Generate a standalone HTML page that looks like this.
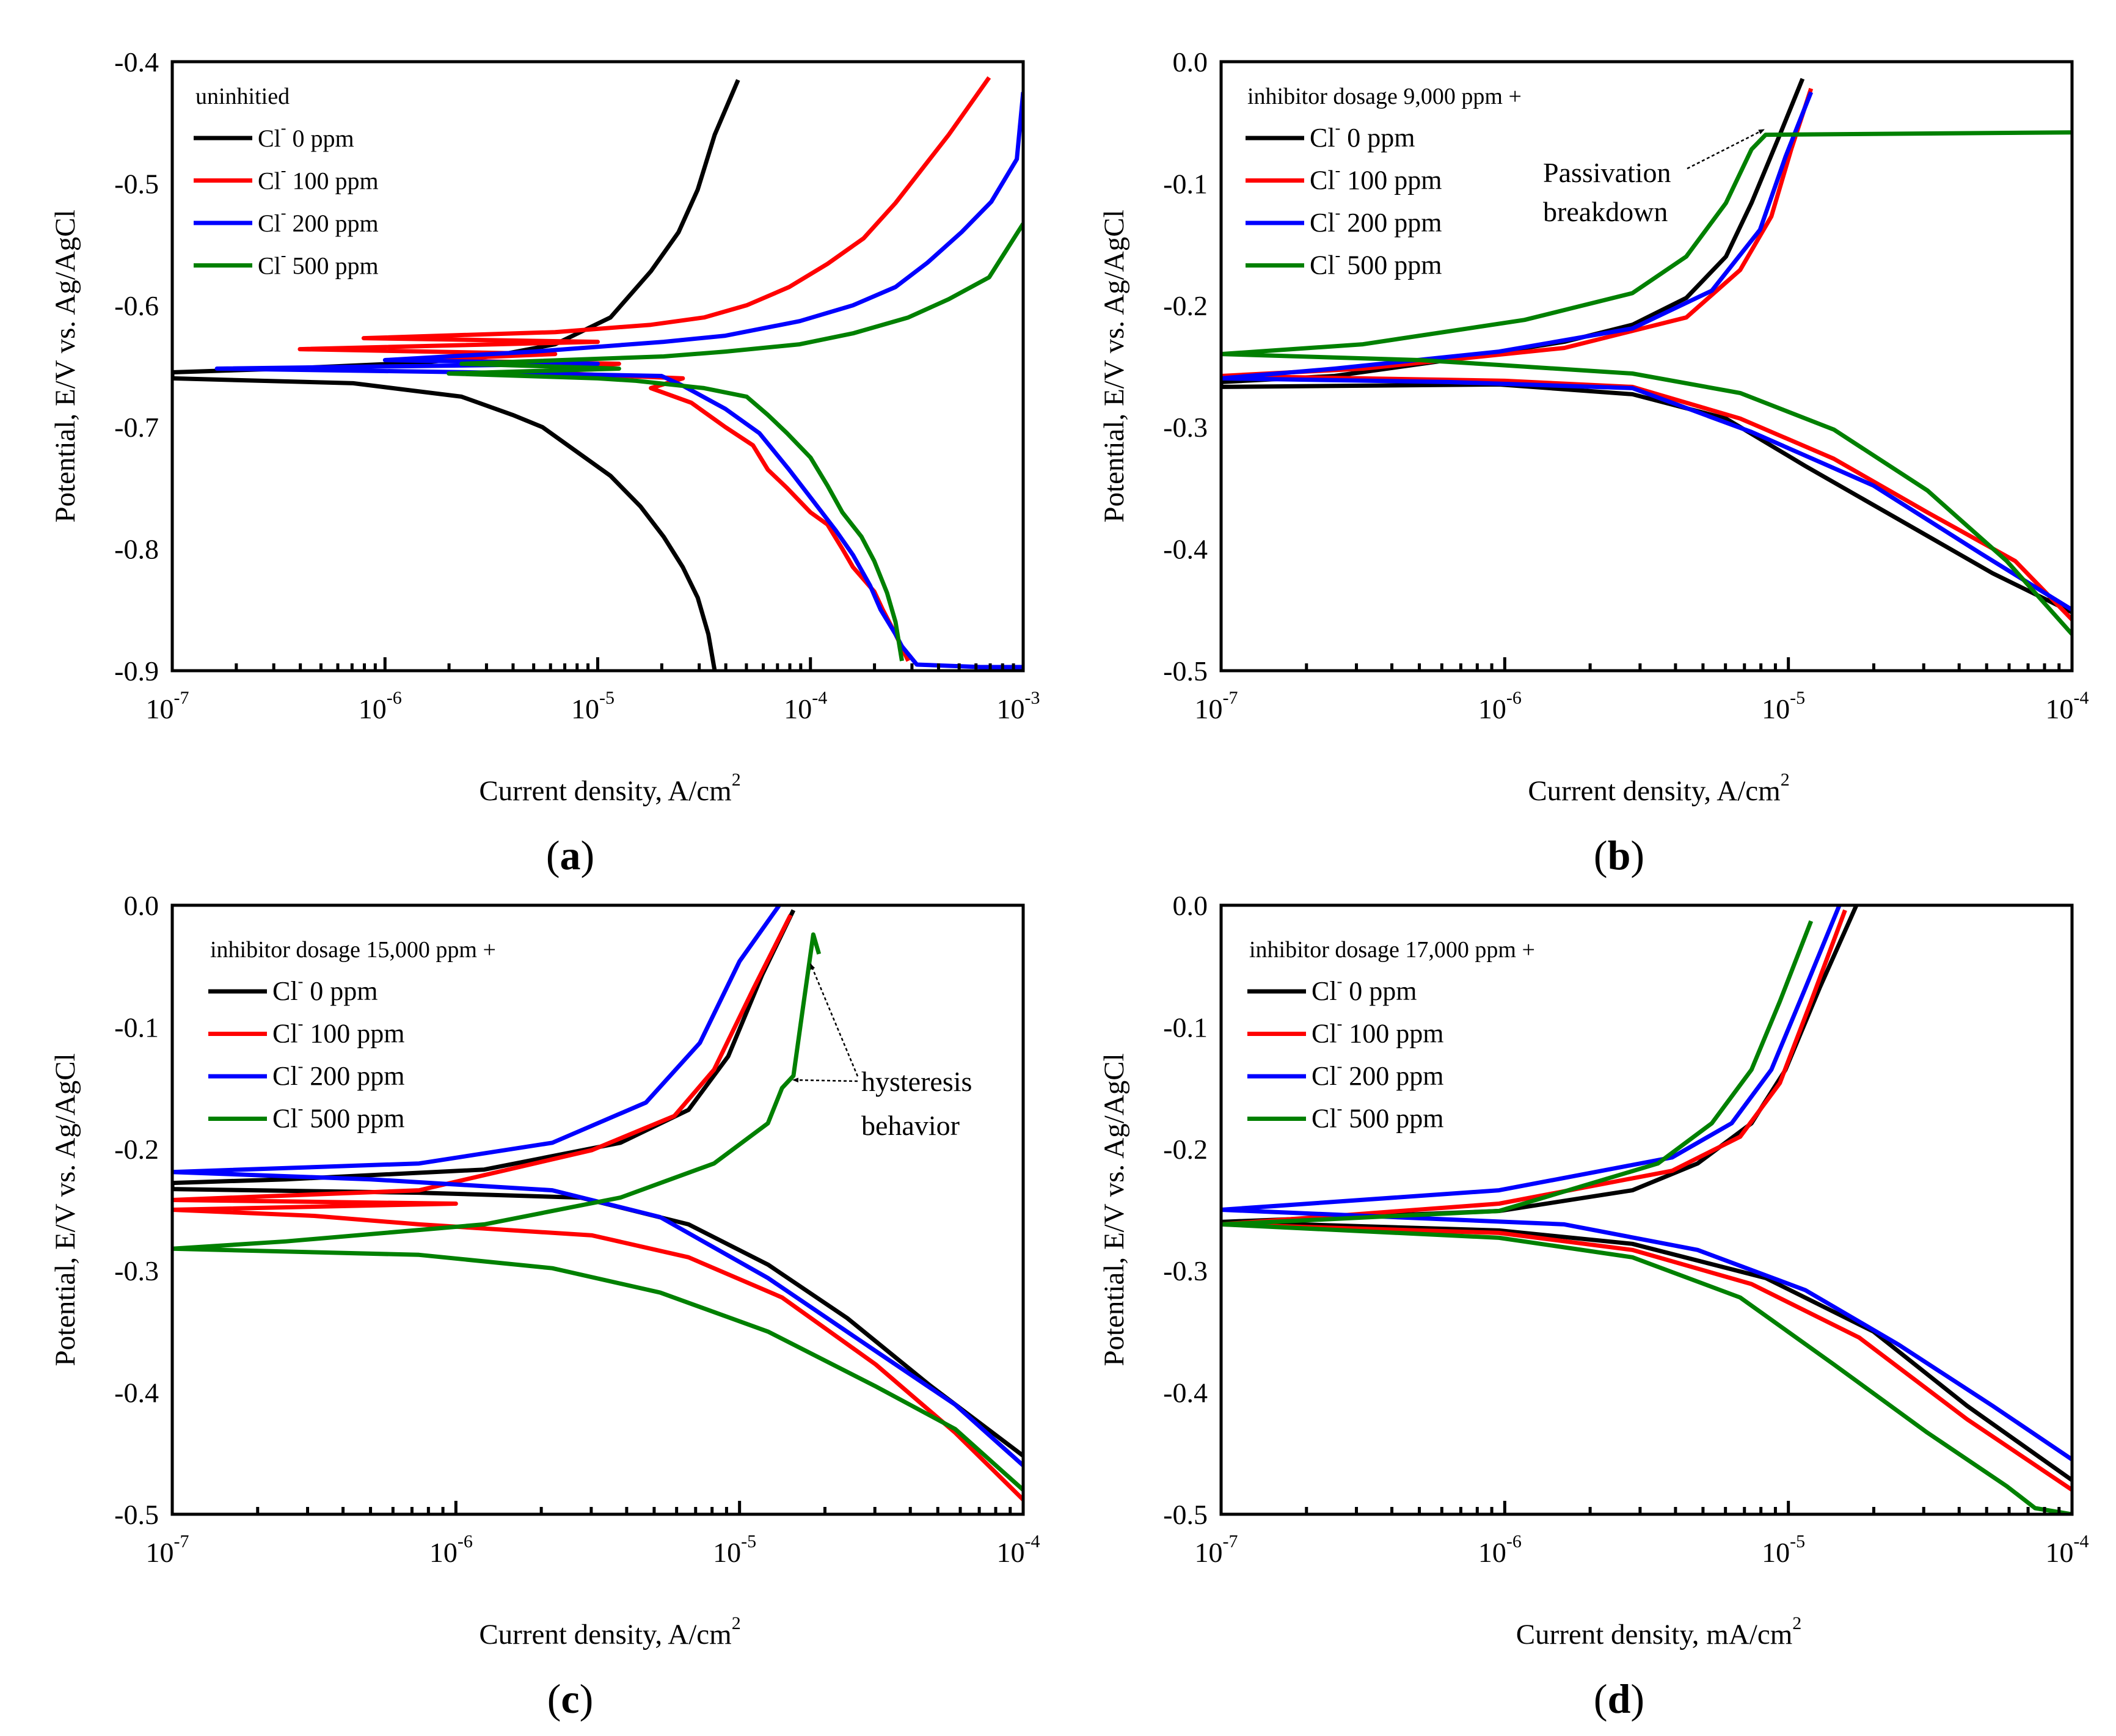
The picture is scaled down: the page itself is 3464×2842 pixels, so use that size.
<!DOCTYPE html>
<html><head><meta charset="utf-8"><style>
html,body{margin:0;padding:0;background:#fff}
svg{display:block;font-family:"Liberation Serif",serif}
</style></head><body>
<svg id="fig" width="3464" height="2842" viewBox="0 0 3464 2842" xmlns="http://www.w3.org/2000/svg"></svg>
<script>
// ---- data: [log10(current), potential V] ----
const aBlack=[[-4.34,-0.415],[-4.45,-0.46],[-4.53,-0.505],[-4.62,-0.54],[-4.75,-0.572],[-4.94,-0.61],[-5.2,-0.632],[-5.5,-0.642],[-5.83,-0.647],[-6.47,-0.652],[-7,-0.655],[-7,-0.66],[-6.15,-0.664],[-5.64,-0.675],[-5.4,-0.69],[-5.26,-0.70],[-5.1,-0.72],[-4.94,-0.74],[-4.8,-0.765],[-4.69,-0.79],[-4.6,-0.815],[-4.53,-0.84],[-4.48,-0.87],[-4.45,-0.9]];
const aRed=[[-3.16,-0.413],[-3.35,-0.46],[-3.6,-0.516],[-3.75,-0.545],[-3.92,-0.566],[-4.1,-0.585],[-4.3,-0.6],[-4.5,-0.61],[-4.75,-0.616],[-5.2,-0.622],[-6.1,-0.627],[-5.0,-0.63],[-6.4,-0.636],[-5.2,-0.64],[-5.9,-0.645],[-4.9,-0.648],[-5.3,-0.655],[-4.6,-0.66],[-4.75,-0.668],[-4.56,-0.68],[-4.4,-0.7],[-4.27,-0.715],[-4.2,-0.735],[-4.11,-0.75],[-4.0,-0.77],[-3.92,-0.78],[-3.85,-0.8],[-3.8,-0.815],[-3.7,-0.835],[-3.66,-0.85],[-3.6,-0.87],[-3.54,-0.892]];
const aBlue=[[-3.0,-0.425],[-3.03,-0.48],[-3.15,-0.515],[-3.29,-0.54],[-3.45,-0.565],[-3.6,-0.585],[-3.8,-0.6],[-4.05,-0.613],[-4.4,-0.625],[-4.69,-0.63],[-5.3,-0.638],[-6.0,-0.645],[-5.0,-0.648],[-6.79,-0.652],[-5.6,-0.655],[-4.7,-0.658],[-4.6,-0.666],[-4.4,-0.685],[-4.24,-0.705],[-4.1,-0.735],[-3.99,-0.76],[-3.88,-0.785],[-3.8,-0.805],[-3.72,-0.83],[-3.67,-0.85],[-3.6,-0.87],[-3.57,-0.88],[-3.5,-0.895],[-3.2,-0.897],[-3.0,-0.897]];
const aGreen=[[-3.0,-0.533],[-3.16,-0.577],[-3.35,-0.595],[-3.54,-0.61],[-3.8,-0.623],[-4.05,-0.632],[-4.4,-0.638],[-4.69,-0.642],[-5.64,-0.648],[-4.9,-0.652],[-5.7,-0.656],[-5.0,-0.66],[-4.82,-0.662],[-4.5,-0.668],[-4.3,-0.675],[-4.2,-0.69],[-4.11,-0.705],[-4.0,-0.725],[-3.92,-0.748],[-3.85,-0.77],[-3.76,-0.79],[-3.7,-0.81],[-3.64,-0.836],[-3.6,-0.86],[-3.57,-0.892]];
const bBlack=[[-4.95,-0.014],[-5.03,-0.06],[-5.13,-0.116],[-5.22,-0.16],[-5.36,-0.194],[-5.55,-0.216],[-5.79,-0.23],[-6.2,-0.245],[-6.6,-0.258],[-7,-0.263],[-7,-0.267],[-6.02,-0.265],[-5.55,-0.273],[-5.22,-0.293],[-4.94,-0.332],[-4.61,-0.376],[-4.28,-0.42],[-4.0,-0.452]];
const bRed=[[-4.92,-0.022],[-4.99,-0.072],[-5.06,-0.127],[-5.17,-0.171],[-5.36,-0.21],[-5.79,-0.235],[-6.5,-0.252],[-7,-0.258],[-6.0,-0.262],[-5.55,-0.267],[-5.17,-0.293],[-4.84,-0.326],[-4.51,-0.37],[-4.2,-0.41],[-4.0,-0.458]];
const bBlue=[[-4.92,-0.025],[-5.01,-0.078],[-5.1,-0.138],[-5.27,-0.188],[-5.55,-0.219],[-6.02,-0.238],[-6.6,-0.252],[-7,-0.26],[-6.2,-0.263],[-5.55,-0.268],[-5.13,-0.304],[-4.7,-0.348],[-4.32,-0.404],[-4.0,-0.45]];
const bGreen=[[-4.0,-0.058],[-5.08,-0.06],[-5.13,-0.072],[-5.22,-0.116],[-5.36,-0.16],[-5.55,-0.19],[-5.93,-0.212],[-6.5,-0.232],[-7,-0.24],[-6.3,-0.245],[-6.02,-0.249],[-5.55,-0.256],[-5.17,-0.272],[-4.84,-0.302],[-4.51,-0.352],[-4.23,-0.41],[-4.0,-0.47]];
const cBlack=[[-4.81,-0.004],[-4.92,-0.057],[-5.04,-0.124],[-5.18,-0.168],[-5.42,-0.195],[-5.9,-0.217],[-6.6,-0.225],[-7,-0.228],[-7,-0.233],[-6.13,-0.236],[-5.56,-0.24],[-5.18,-0.262],[-4.9,-0.295],[-4.62,-0.339],[-4.33,-0.394],[-4.0,-0.452]];
const cRed=[[-4.82,-0.008],[-4.95,-0.068],[-5.09,-0.135],[-5.23,-0.173],[-5.52,-0.201],[-6.13,-0.234],[-7,-0.242],[-6.0,-0.245],[-7,-0.25],[-6.5,-0.255],[-6.13,-0.262],[-5.52,-0.271],[-5.18,-0.289],[-4.85,-0.322],[-4.52,-0.377],[-4.24,-0.433],[-4.0,-0.488]];
const cBlue=[[-4.86,0],[-5.0,-0.046],[-5.14,-0.113],[-5.33,-0.162],[-5.66,-0.195],[-6.13,-0.212],[-7,-0.219],[-6.3,-0.225],[-5.66,-0.234],[-5.28,-0.256],[-4.9,-0.306],[-4.52,-0.366],[-4.24,-0.41],[-4.0,-0.46]];
const cGreen=[[-4.72,-0.04],[-4.74,-0.024],[-4.76,-0.057],[-4.78,-0.09],[-4.81,-0.14],[-4.85,-0.15],[-4.9,-0.179],[-5.09,-0.212],[-5.42,-0.24],[-5.9,-0.262],[-6.6,-0.276],[-7,-0.282],[-6.13,-0.287],[-5.66,-0.298],[-5.28,-0.318],[-4.9,-0.35],[-4.52,-0.395],[-4.24,-0.43],[-4.0,-0.48]];
const dBlack=[[-4.76,0],[-4.89,-0.068],[-5.01,-0.135],[-5.13,-0.179],[-5.32,-0.212],[-5.55,-0.234],[-6.02,-0.251],[-7,-0.26],[-6.02,-0.267],[-5.55,-0.278],[-5.08,-0.306],[-4.7,-0.35],[-4.37,-0.411],[-4.0,-0.472]];
const dRed=[[-4.8,-0.004],[-4.92,-0.079],[-5.03,-0.146],[-5.17,-0.19],[-5.41,-0.218],[-6.02,-0.245],[-7,-0.262],[-6.02,-0.269],[-5.55,-0.283],[-5.13,-0.311],[-4.75,-0.355],[-4.37,-0.422],[-4.0,-0.48]];
const dBlue=[[-4.82,0],[-4.94,-0.068],[-5.06,-0.135],[-5.2,-0.179],[-5.41,-0.207],[-6.02,-0.234],[-7,-0.25],[-5.79,-0.262],[-5.32,-0.283],[-4.94,-0.316],[-4.61,-0.361],[-4.28,-0.411],[-4.0,-0.455]];
const dGreen=[[-4.92,-0.013],[-5.03,-0.079],[-5.13,-0.135],[-5.27,-0.179],[-5.46,-0.212],[-6.02,-0.251],[-7,-0.262],[-6.02,-0.273],[-5.55,-0.289],[-5.17,-0.322],[-4.84,-0.377],[-4.51,-0.433],[-4.23,-0.477],[-4.13,-0.495],[-4.0,-0.5]];
const aYTicks=[-0.4,-0.5,-0.6,-0.7,-0.8,-0.9];
const bYTicks=[0.0,-0.1,-0.2,-0.3,-0.4,-0.5];
const legendLabels=["0 ppm","100 ppm","200 ppm","500 ppm"];
const colors=["#000","#f00","#00f","#008000"];

const NS="http://www.w3.org/2000/svg";
const svg=document.getElementById('fig');
function mk(tag,attrs,parent){const e=document.createElementNS(NS,tag);for(const k in attrs)e.setAttribute(k,attrs[k]);(parent||svg).appendChild(e);return e;}

const panels=[
 {id:'a',x0:282,x1:1675,y0:101,y1:1098,lx0:-7,lx1:-3,ymax:-0.4,ymin:-0.9,yt:aYTicks,series:[aBlack,aRed,aBlue,aGreen],title:"uninhitied",xt:"Current density, A/cm",lgx:320,lgy:170,lfs:40,tfs:38},
 {id:'b',x0:1999,x1:3392,y0:101,y1:1098,lx0:-7,lx1:-4,ymax:0,ymin:-0.5,yt:bYTicks,series:[bBlack,bRed,bBlue,bGreen],title:"inhibitor dosage 9,000 ppm +",xt:"Current density, A/cm",lgx:2042,lgy:170,lfs:44,tfs:38},
 {id:'c',x0:282,x1:1675,y0:1482,y1:2479,lx0:-7,lx1:-4,ymax:0,ymin:-0.5,yt:bYTicks,series:[cBlack,cRed,cBlue,cGreen],title:"inhibitor dosage 15,000 ppm +",xt:"Current density, A/cm",lgx:344,lgy:1567,lfs:44,tfs:38},
 {id:'d',x0:1999,x1:3392,y0:1482,y1:2479,lx0:-7,lx1:-4,ymax:0,ymin:-0.5,yt:bYTicks,series:[dBlack,dRed,dBlue,dGreen],title:"inhibitor dosage  17,000 ppm +",xt:"Current density, mA/cm",lgx:2045,lgy:1567,lfs:44,tfs:38}
];
const seriesNames=['cl-0ppm','cl-100ppm','cl-200ppm','cl-500ppm'];

panels.forEach(p=>{
  const g=mk('g',{});
  
  
  const X=l=>p.x0+(l-p.lx0)/(p.lx1-p.lx0)*(p.x1-p.x0);
  const Y=v=>p.y0+(p.ymax-v)/(p.ymax-p.ymin)*(p.y1-p.y0);
  const clip=mk('clipPath',{id:'clip'+p.id},g);
  mk('rect',{x:p.x0,y:p.y0,width:p.x1-p.x0,height:p.y1-p.y0},clip);
  // series
  p.series.forEach((s,i)=>{
    const pl=mk('polyline',{points:s.map(d=>X(d[0]).toFixed(1)+','+Y(d[1]).toFixed(1)).join(' '),fill:'none',stroke:colors[i],'stroke-width':7,'stroke-linejoin':'round','clip-path':'url(#clip'+p.id+')'},g);
    
    
  });
  // frame
  const fr=mk('rect',{x:p.x0,y:p.y0,width:p.x1-p.x0,height:p.y1-p.y0,fill:'none',stroke:'#000','stroke-width':5},g);
  
  
  // x ticks
  for(let d=p.lx0;d<=p.lx1;d++){
    const x=X(d);
    if(d>p.lx0&&d<p.lx1) mk('line',{x1:x,x2:x,y1:p.y1,y2:p.y1-22,stroke:'#000','stroke-width':5},g);
    const t=mk('text',{x:x-8,y:p.y1+78,'font-size':46,'text-anchor':'middle'},g);
    
    
    t.textContent='10';
    const sp=mk('tspan',{dy:-24,'font-size':30},t);sp.textContent=String(d);
    if(d<p.lx1)for(let m=2;m<=9;m++){const xm=X(d+Math.log10(m));mk('line',{x1:xm,x2:xm,y1:p.y1,y2:p.y1-12,stroke:'#000','stroke-width':5},g);}
  }
  // y ticks
  p.yt.forEach(v=>{
    const t=mk('text',{x:p.x0-22,y:Y(v)+16,'font-size':46,'text-anchor':'end'},g);
    
    
    t.textContent=v.toFixed(1);
  });
  // axis titles
  const yt=mk('text',{x:0,y:0,'font-size':47,'text-anchor':'middle',transform:`translate(${p.x0-160},${(p.y0+p.y1)/2}) rotate(-90)`},g);
  
  
  yt.textContent='Potential, E/V vs. Ag/AgCl';
  const xt=mk('text',{x:(p.x0+p.x1)/2+20,y:p.y1+212,'font-size':47,'text-anchor':'middle'},g);
  
  
  xt.textContent=p.xt;
  const s2=mk('tspan',{dy:-24,'font-size':30},xt);s2.textContent='2';
  const pl=mk('text',{x:(p.x0+p.x1)/2-45,y:p.y1+325,'font-size':68,'text-anchor':'middle'},g);
  
  
  pl.textContent='(';const b=mk('tspan',{'font-weight':'bold'},pl);b.textContent=p.id;const c=mk('tspan',{},pl);c.textContent=')';
  // legend
  const lt=mk('text',{x:p.lgx,y:p.lgy,'font-size':p.tfs},g);
  
  
  lt.textContent=p.title;
  legendLabels.forEach((lab,i)=>{
    const yy=p.lgy+56+i*69.5;
    const le=mk('g',{},g);
    
    
    mk('line',{x1:p.lgx-3,x2:p.lgx+93,y1:yy,y2:yy,stroke:colors[i],'stroke-width':7},le);
    const tx=mk('text',{x:p.lgx+102,y:yy+14,'font-size':p.lfs},le);
    tx.textContent='Cl';const sup=mk('tspan',{dy:-22,'font-size':26},tx);sup.textContent='-';
    const rest=mk('tspan',{dy:22},tx);rest.textContent=' '+lab;
  });
});
// annotations
function ann(txt,x,y,name){const t=mk('text',{x:x,y:y,'font-size':46});t.textContent=txt;}
ann('Passivation',2526,298,'annotation-passivation');
ann('breakdown',2526,362,'annotation-breakdown');
ann('hysteresis',1410,1786,'annotation-hysteresis');
ann('behavior',1410,1858,'annotation-behavior');
const defs=mk('defs',{});
const mkr=mk('marker',{id:'ah',markerWidth:10,markerHeight:10,refX:9,refY:5,orient:'auto',markerUnits:'userSpaceOnUse'},defs);
mk('path',{d:'M0,1 L10,5 L0,9 Z',fill:'#000'},mkr);
[[2762,276,2888,212],[1404,1762,1327,1578],[1404,1770,1298,1768]].forEach(a=>{
  const l=mk('line',{x1:a[0],y1:a[1],x2:a[2],y2:a[3],stroke:'#000','stroke-width':2.5,'stroke-dasharray':'5,4','marker-end':'url(#ah)'});
  
  
});
</script>
</body></html>
